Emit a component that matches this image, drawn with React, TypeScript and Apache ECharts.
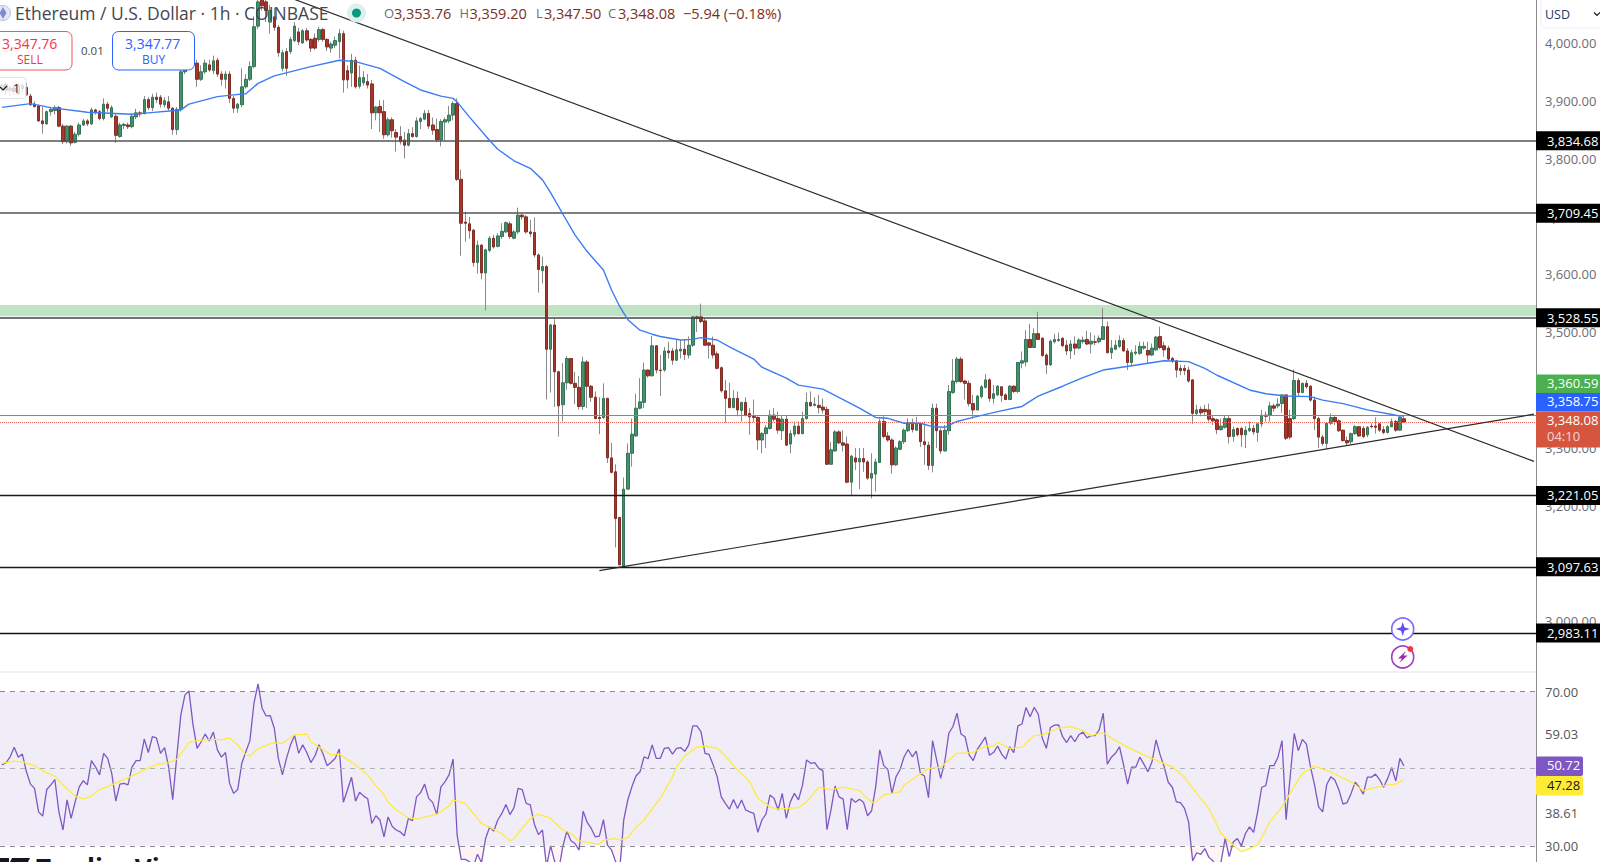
import React, { useEffect, useRef } from "react";
import * as echarts from "echarts";

const FONT = '"Open Sans", Roboto, sans-serif';
const CATEGORY_COUNT = 378;

// [open, close, low, high], one row per hourly candle
const candles: number[][] = [
  [3925,3930,3918,3938],[3932,3922,3915,3936],[3922,3926,3912,3930],[3926,3920,3914,3932],[3916,3931,3914,3934],[3925,3930,3918,3934],[3927,3914,3912,3935],
  // 7
  [3912,3897,3895,3916],[3898,3894,3892,3903],[3895,3869,3867,3897],[3869,3864,3847,3893],[3864,3885,3862,3887],[3885,3889,3878,3893],[3887,3892,3880,3896],[3892,3860,3858,3895],[3860,3833,3829,3864],[3833,3860,3830,3862],[3860,3831,3826,3862],[3832,3846,3830,3850],[3846,3862,3842,3866],[3862,3869,3860,3873],[3869,3864,3860,3872],[3864,3888,3862,3892],[3888,3885,3880,3890],[3885,3873,3870,3888],[3873,3898,3870,3908],[3898,3891,3885,3902],[3876,3892,3874,3896],[3877,3844,3831,3882],[3842,3862,3840,3866],[3861,3863,3855,3866],[3862,3859,3855,3866],[3859,3877,3856,3882],[3876,3883,3872,3890],[3883,3881,3876,3886],[3882,3906,3880,3912],[3906,3892,3888,3910],[3892,3910,3886,3916],[3910,3906,3900,3918],[3910,3898,3892,3914],[3897,3904,3892,3910],[3902,3891,3886,3912],[3891,3854,3845,3893],[3854,3889,3845,3893],[3889,3954,3885,3960],
  // 45
  [3954,3965,3950,3975],[3965,3975,3960,3985],[3975,3969,3962,3990],[3969,3941,3928,3975],[3941,3954,3938,3965],[3954,3969,3950,3975],[3966,3957,3954,3975],[3956,3973,3950,3982],[3974,3950,3945,3978],[3950,3941,3930,3955],[3941,3950,3925,3955],[3950,3908,3900,3955],[3908,3891,3883,3912],[3891,3898,3883,3900],[3897,3928,3893,3960],[3928,3941,3925,3950],[3941,3963,3938,3972],[3963,4032,3960,4050],[4033,4075,4028,4100],[4085,4068,4060,4095],[4075,4060,4040,4085],[4040,4060,4020,4070],[4049,4031,4025,4065],[4031,3987,3980,4035],[3960,3987,3955,3992],[3989,3960,3947,3995],[3989,4010,3985,4015],[4008,4033,4005,4040],[4023,4006,4000,4030],[4004,4025,4002,4028],[4025,4009,4006,4030],[4010,3995,3988,4012],[4012,3995,3992,4020],[4010,4027,4006,4032],[4027,4010,4006,4030],[4010,3997,3990,4012],[3995,4002,3987,4006],[4000,4008,3995,4015],[4006,4020,3977,4028],
  // 84
  [4020,3940,3918,4025],[3956,3940,3925,3965],[3952,3974,3928,3985],[3974,3928,3925,3980],[3929,3944,3925,3965],[3935,3944,3930,3955],[3937,3931,3925,3950],[3933,3883,3855,3940],[3883,3893,3870,3895],[3894,3883,3850,3905],[3885,3845,3838,3905],[3845,3871,3842,3875],[3871,3852,3840,3875],[3849,3841,3816,3855],[3842,3833,3828,3860],
  // 99
  [3836,3827,3804,3850],[3827,3847,3825,3855],[3847,3842,3840,3858],[3842,3869,3840,3875],[3868,3873,3855,3876],[3872,3882,3870,3888],[3882,3860,3855,3888],[3862,3853,3845,3875],[3854,3836,3832,3873],[3836,3868,3825,3872],[3867,3871,3836,3875],[3869,3879,3865,3895],[3879,3899,3870,3903],[3899,3768,3765,3908],
  // 113
  [3768,3692,3636,3785],[3694,3692,3660,3712],[3691,3679,3665,3703],[3680,3624,3617,3682],[3624,3654,3605,3662],[3654,3606,3595,3656],[3606,3646,3541,3648],[3645,3666,3642,3670],[3666,3651,3648,3672],[3652,3670,3650,3675],[3669,3678,3665,3692],[3677,3693,3675,3695],[3691,3669,3665,3695],[3666,3677,3664,3680],[3677,3706,3673,3719],[3706,3703,3698,3708],[3703,3677,3674,3706],[3677,3674,3668,3698],[3676,3637,3633,3702],[3637,3612,3572,3640],[3610,3617,3588,3634],
  // 134
  [3617,3474,3387,3620],[3474,3516,3399,3518],[3516,3435,3374,3526],[3435,3376,3323,3437],[3378,3416,3349,3450],[3416,3458,3404,3462],[3458,3415,3413,3458],[3415,3408,3379,3435],[3408,3375,3370,3428],[3375,3452,3369,3461],[3452,3410,3372,3455],[3410,3391,3383,3412],[3391,3354,3353,3401],[3356,3354,3327,3391],[3356,3389,3353,3415],[3389,3286,3277,3390],[3286,3261,3259,3312],[3262,3181,3131,3275],[3183,3101,3100,3184],
  // 153
  [3099,3232,3098,3252],[3232,3294,3231,3311],[3294,3327,3271,3354],[3324,3372,3323,3397],[3372,3383,3370,3424],[3382,3438,3372,3451],[3438,3428,3425,3439],[3428,3480,3427,3497],[3480,3438,3432,3481],[3438,3437,3393,3464],[3438,3471,3435,3478],[3471,3468,3458,3487],[3471,3455,3447,3476],[3455,3473,3454,3490],[3471,3474,3458,3490],[3474,3465,3455,3490],[3464,3481,3458,3496],[3481,3530,3478,3531],[3530,3527,3504,3532],[3530,3522,3519,3553],[3523,3481,3480,3528],[3485,3481,3458,3487],[3481,3464,3458,3496],[3466,3441,3439,3470],[3442,3402,3399,3444],[3402,3389,3347,3421],[3389,3373,3372,3416],[3373,3389,3372,3403],[3389,3369,3358,3401],[3368,3382,3349,3383],[3382,3360,3358,3391],[3363,3357,3326,3372],[3358,3356,3348,3387],[3356,3317,3300,3358],[3317,3328,3294,3331],[3328,3338,3303,3343],[3337,3360,3335,3369],[3360,3353,3349,3372],[3354,3334,3328,3366],[3333,3353,3317,3360],[3353,3308,3307,3360],[3310,3328,3294,3334],[3327,3341,3322,3349],[3341,3328,3326,3349],[3328,3354,3327,3366],[3354,3382,3352,3399],[3382,3376,3375,3401],[3377,3379,3375,3391],[3377,3373,3363,3395],[3374,3369,3363,3389],
  // 203
  [3370,3275,3274,3375],[3275,3300,3274,3314],[3298,3331,3297,3334],[3331,3312,3310,3334],[3312,3308,3297,3334],[3310,3244,3242,3323],[3244,3289,3220,3291],[3286,3279,3265,3303],[3279,3285,3232,3303],[3285,3279,3262,3303],[3279,3251,3248,3282],[3251,3259,3216,3294],[3258,3279,3228,3285],[3278,3349,3277,3354],[3349,3323,3320,3358],[3324,3317,3314,3331],[3317,3274,3259,3320],[3274,3303,3272,3306],[3301,3314,3299,3317],
  // 222
  [3314,3334,3310,3337],[3333,3347,3331,3354],[3347,3335,3330,3354],[3334,3346,3333,3357],[3345,3314,3305,3347],[3314,3309,3274,3349],[3308,3273,3265,3314],[3273,3372,3261,3380],[3372,3333,3303,3380],[3333,3298,3293,3337],[3298,3334,3297,3343],[3333,3401,3326,3412],[3399,3419,3397,3457],[3418,3457,3415,3461],[3457,3418,3416,3461],[3419,3415,3387,3421],[3415,3380,3375,3420],[3380,3369,3354,3395],[3369,3393,3368,3395],[3392,3409,3389,3412],[3408,3421,3406,3431],[3421,3389,3383,3424],[3389,3397,3380,3412],[3395,3410,3393,3412],[3409,3394,3383,3410],[3395,3387,3386,3398],[3387,3410,3386,3412],[3410,3401,3398,3412],[3401,3451,3398,3452],[3450,3454,3441,3470],[3452,3491,3444,3507],[3491,3477,3476,3518],[3477,3501,3476,3510],[3501,3491,3490,3539],[3493,3463,3461,3495],[3464,3447,3431,3467],[3447,3488,3445,3491],[3487,3491,3484,3501],[3489,3491,3487,3503],[3493,3480,3478,3495],[3481,3471,3464,3490],[3471,3483,3457,3490],[3483,3476,3464,3496],[3476,3490,3474,3493],[3487,3490,3484,3496],[3491,3483,3481,3506],[3483,3488,3467,3503],[3487,3486,3481,3498],[3487,3493,3484,3498],[3491,3513,3490,3545],[3513,3468,3467,3522],[3468,3476,3457,3490],[3474,3481,3473,3490],[3479,3489,3476,3498],[3489,3471,3470,3493],[3471,3451,3438,3476],[3451,3468,3444,3473],[3467,3469,3464,3481],[3467,3479,3464,3487],[3476,3479,3473,3487],[3472,3464,3450,3487],[3464,3476,3462,3484],[3473,3495,3471,3497],[3496,3477,3474,3513],[3480,3473,3461,3487],[3476,3457,3455,3480],[3458,3454,3450,3461],[3454,3438,3425,3455],[3441,3437,3429,3447],[3441,3437,3429,3447],[3438,3419,3416,3444],
  // 293
  [3421,3363,3345,3422],[3363,3369,3360,3378],[3370,3364,3358,3375],[3370,3366,3360,3378],[3369,3353,3349,3380],[3354,3350,3343,3360],[3352,3335,3327,3354],[3335,3341,3333,3354],[3339,3354,3337,3360],[3354,3323,3311,3360],[3323,3335,3314,3340],[3337,3326,3323,3339],[3337,3326,3305,3340],[3326,3334,3303,3341],[3333,3337,3331,3349],[3337,3331,3326,3343],[3330,3345,3314,3346],[3345,3360,3339,3369],[3360,3358,3349,3366],[3360,3376,3349,3383],[3376,3372,3366,3380],[3376,3379,3372,3389],[3380,3395,3364,3395],[3395,3320,3317,3395],[3354,3322,3318,3369],[3354,3420,3352,3439],[3420,3399,3392,3424],[3399,3415,3398,3416],[3415,3409,3406,3421],[3410,3386,3383,3412],[3386,3354,3334,3392],[3354,3322,3303,3357],[3322,3311,3307,3326],[3311,3346,3301,3347],[3346,3356,3343,3363],[3356,3349,3343,3358],[3350,3333,3331,3353],[3334,3316,3314,3335],[3316,3312,3307,3323],[3314,3328,3310,3330],[3328,3340,3326,3343],[3340,3324,3323,3341],[3337,3323,3320,3341],[3326,3339,3322,3341],[3341,3340,3337,3346],[3341,3339,3328,3356],[3345,3334,3331,3346],[3335,3330,3327,3341],[3330,3340,3328,3343],[3340,3349,3339,3354],[3349,3334,3331,3352],[3334,3356,3333,3358],
  // 345
  [3353.76,3348.08,3347.5,3359.2],
];

// 50-period moving average read at its turning points: candle index, price
const maIndex = [0,7,12,21,32,36,44,46,53,57,60,63,67,76,83,87,93,99,103,108,111,112,115,120,122,126,130,133,135,138,141,144,148,150,152,154,157,160,162,167,170,172,176,179,185,187,193,196,202,207,211,215,218,222,226,229,232,235,239,245,251,255,261,266,271,278,286,292,296,299,307,311,316,322,325,330,336,344,345];
const maPrice = [3892.5,3899,3892,3884,3880.5,3883,3888,3898,3911,3914,3916,3934,3947,3963,3974,3971.5,3960,3937,3922.5,3912,3908,3902,3876,3835,3820,3800,3787,3767,3745,3708,3672,3643,3611,3576.5,3548,3525,3507,3500,3496,3490,3491,3494,3490,3478,3457,3443,3424,3412,3405,3387,3372,3356,3354.5,3346,3346,3340,3339,3349,3356,3366,3375,3393,3410,3425,3438,3445.5,3454,3452.5,3441,3429,3403.5,3397,3393,3392,3386,3380,3369,3358.5,3358.75];

const levelValues = [3834.68,3709.45,3528.55,3221.05,3097.63,2983.11];
const levelColors = ["#555555","#555555","#444444","#1a1a1a","#1a1a1a","#111111"];
const zoneLow = 3531;
const zoneHigh = 3550.6;
const lastPrice = 3348.08;
const greenLevel = 3360.59;

const priceMin = 2915.6;
const priceMax = 4078.2;
const priceTicks = [3000,3100,3200,3300,3400,3500,3600,3700,3800,3900,4000];

// trend lines: candle index, price
const fallIndex = [72,377];
const fallPrice = [4079.2,3280];
const riseIndex = [147,377];
const risePrice = [3091.1,3361.6];

const rsi = [
  51.0,51.6,53.1,55.6,53.0,53.8,49.2,46.0,44.9,38.8,37.7,44.6,45.8,47.2,38.8,34.1,41.9,37.1,41.4,45.3,
  46.9,45.8,52.1,50.5,48.4,54.0,52.7,48.8,41.6,46.0,46.2,45.8,50.5,52.1,52.1,57.7,54.2,58.3,58.0,54.0,
  55.5,50.5,42.0,53.1,63.9,69.1,70.2,61.4,55.3,57.0,59.0,57.2,59.5,54.9,53.0,54.2,46.2,43.6,44.6,51.4,
  54.4,57.3,67.0,72.0,65.7,63.7,63.8,60.5,52.7,48.4,52.7,56.2,58.6,54.0,56.2,54.2,51.6,53.3,56.2,53.8,
  50.8,51.7,52.7,55.1,41.3,44.5,47.8,41.6,43.9,42.9,42.2,35.8,37.8,36.7,32.3,37.5,35.1,34.1,33.6,32.6,
  37.1,36.5,42.7,43.8,46.0,42.3,41.2,38.1,45.3,46.6,48.4,52.5,32.8,26.5,26.5,25.9,24.6,27.8,25.6,31.9,
  34.9,33.8,36.7,38.4,40.7,38.1,39.9,44.9,44.6,41.0,40.6,35.6,32.9,34.1,24.6,30.0,25.9,23.7,29.8,33.8,
  31.3,30.6,28.9,39.0,36.1,34.5,32.3,32.5,36.8,30.2,28.9,25.9,23.7,36.7,41.9,45.3,48.1,49.2,53.1,52.6,
  56.2,52.7,52.7,55.3,55.5,53.8,55.3,55.5,54.5,56.2,61.1,61.1,59.6,54.0,53.7,51.0,47.9,42.7,41.0,39.5,
  42.0,39.7,41.9,39.3,38.8,38.4,33.5,36.7,38.2,43.2,42.3,39.3,43.6,37.1,41.4,43.6,41.9,45.8,52.3,51.4,
  51.6,50.1,49.5,34.2,39.3,45.5,42.7,42.1,34.2,42.3,41.3,42.1,41.3,37.8,39.1,45.3,54.9,50.8,49.8,43.6,
  47.9,49.8,53.1,55.0,53.1,54.6,48.8,48.1,42.5,57.3,52.3,47.5,51.8,59.2,60.9,64.4,59.0,58.3,53.6,52.1,
  55.0,56.6,58.2,53.5,54.2,55.9,53.8,52.5,55.7,54.2,61.1,61.6,65.9,63.5,65.9,64.2,57.9,55.3,60.7,61.3,
  61.4,58.3,56.8,58.6,57.0,58.8,59.5,58.0,58.6,58.6,60.1,64.4,51.2,53.0,54.0,55.7,51.0,46.0,50.4,50.4,
  53.0,51.2,49.2,51.8,57.5,53.6,50.5,46.5,45.2,41.4,41.2,39.7,36.2,26.1,28.2,27.8,29.3,27.0,26.1,23.7,
  25.9,31.9,27.2,31.0,31.9,30.0,33.2,34.9,33.5,38.8,45.2,45.6,50.8,50.8,53.0,57.3,36.8,47.9,59.2,54.7,
  57.6,56.4,50.5,45.8,40.1,38.8,45.9,47.9,47.1,44.5,40.8,41.2,43.6,46.5,45.2,43.4,47.8,47.8,48.6,47.2,
  45.2,47.5,50.3,46.8,52.7,50.72,
];

// RSI moving average read at its turning points: candle index, value
const rsiMaIndex = [0,3,5,8,10,13,15,18,20,22,24,27,29,32,35,38,41,43,45,46,48,52,54,56,58,60,61,63,67,69,72,75,76,81,83,87,90,92,94,95,97,100,102,107,110,111,114,118,120,123,125,126,130,132,135,138,140,142,147,148,151,152,154,156,158,161,162,165,166,168,171,173,176,178,181,184,186,189,191,196,198,201,204,207,211,214,215,217,221,222,228,231,235,239,242,244,245,248,251,254,256,260,263,266,268,271,274,277,281,285,288,291,293,297,300,303,305,309,312,315,317,320,323,327,329,332,335,337,340,343,345];
const rsiMaValue = [51.4,52.0,51.8,50.8,49.4,48.1,45.8,42.9,42.2,42.9,44.6,45.8,46.8,48.1,49.7,51.1,51.6,52.4,55.3,56.8,57.3,57.6,57.5,58.0,56.2,53.6,53.3,55.3,56.8,56.6,58.8,59.0,57.0,53.6,53.8,51.0,48.4,45.6,43.2,41.4,39.3,37.3,36.9,38.2,40.3,41.9,41.0,35.8,34.8,33.2,31.3,31.9,37.1,38.2,37.1,34.1,33.2,31.3,30.4,31.5,31.9,31.5,32.1,34.8,36.7,41.0,42.3,47.9,50.5,53.3,55.6,55.9,55.3,53.3,49.7,46.6,42.3,40.1,39.5,39.9,41.4,45.2,44.6,45.2,44.3,41.2,41.4,43.2,44.0,45.8,50.1,50.4,54.0,54.2,55.9,55.9,56.8,55.3,55.6,58.6,58.8,60.5,60.9,59.9,58.6,59.4,57.3,55.6,53.6,51.8,50.5,47.8,44.9,39.7,33.2,30.2,28.5,30.2,36.2,40.1,43.6,48.8,50.7,49.2,48.1,46.6,44.3,44.9,45.6,46.0,47.28];

const rsiMin = 25.8;
const rsiMax = 75.1;
const rsiTicks = [30,38.61,59.03,70];
const rsiBands = [70,50,30];

const categories = Array.from({ length: CATEGORY_COUNT }, (_, i) => String(i));
const money = (v: number) =>
  v.toLocaleString("en-US", { minimumFractionDigits: 2, maximumFractionDigits: 2 });

const txt = (text: string, x: number, y: number, fill: string, fontSize: number, extra: any = {}) => ({
  type: "text",
  z: 100,
  silent: true,
  style: { text, x, y, fill, fontSize, fontFamily: FONT, textAlign: "left", textVerticalAlign: "middle", ...extra },
});

const box = (x: number, y: number, width: number, height: number, fill: string, stroke?: string, r = 0) => ({
  type: "rect",
  z: 99,
  silent: true,
  shape: { x, y, width, height, r },
  style: { fill, stroke: stroke || "none", lineWidth: stroke ? 1 : 0 },
});

function buildOption(): any {
  const bodies = candles.map(([o, c]) => [o, c, Math.min(o, c), Math.max(o, c)]);
  return {
    animation: false,
    backgroundColor: "#ffffff",
    textStyle: { fontFamily: FONT },
    grid: [
      { left: -5, right: 64, top: 0, height: 672 },
      { left: -5, right: 64, top: 672, height: 190 },
    ],
    xAxis: [
      { type: "category", gridIndex: 0, data: categories, show: false },
      { type: "category", gridIndex: 1, data: categories, show: false },
    ],
    yAxis: [
      {
        type: "value", gridIndex: 0, position: "right", min: priceMin, max: priceMax, scale: true,
        axisLine: { show: true, lineStyle: { color: "#8c8c8c", width: 1 } },
        axisTick: { show: false },
        splitLine: { show: false },
        axisLabel: {
          customValues: priceTicks, formatter: (v: number) => `{tick|${money(v)}}`, margin: 9,
          rich: { tick: { color: "#6a6d78", fontSize: 13, fontFamily: FONT, padding: [0, 0, 4, 0] } },
        },
      },
      {
        type: "value", gridIndex: 1, position: "right", min: rsiMin, max: rsiMax, scale: true,
        axisLine: { show: true, lineStyle: { color: "#8c8c8c", width: 1 } },
        axisTick: { show: false },
        splitLine: { show: false },
        axisLabel: {
          customValues: rsiTicks, formatter: (v: number) => v.toFixed(2), color: "#555555",
          fontSize: 13, fontFamily: FONT, margin: 9,
        },
      },
    ],
    series: [
      {
        type: "candlestick", name: "wicks", xAxisIndex: 0, yAxisIndex: 0, barWidth: 1, z: 3, silent: true,
        data: candles,
        itemStyle: { color: "#8a8a8a", color0: "#8a8a8a", borderColor: "#8a8a8a", borderColor0: "#8a8a8a", borderWidth: 1 },
        markArea: {
          silent: true,
          itemStyle: { color: "#bfe3c3", opacity: 1 },
          data: [[{ yAxis: zoneLow, x: 0 }, { yAxis: zoneHigh, x: 1536 }]],
        },
      },
      {
        type: "candlestick", name: "bodies", xAxisIndex: 0, yAxisIndex: 0, barWidth: 3, z: 4, silent: true,
        data: bodies,
        itemStyle: { color: "#44906a", color0: "#a8342a", borderColor: "#357456", borderColor0: "#822e24", borderWidth: 1 },
      },
      {
        type: "line", name: "MA", xAxisIndex: 0, yAxisIndex: 0, z: 5, showSymbol: false, silent: true,
        data: maIndex.map((i, k) => [i, maPrice[k]]),
        lineStyle: { color: "#3b7cf5", width: 1.4 },
        markLine: {
          silent: true, symbol: "none", animation: false,
          data: [
            { yAxis: greenLevel, lineStyle: { color: "#4caf50", width: 1, type: "solid" }, label: { show: false } },
            { yAxis: lastPrice, lineStyle: { color: "#f0685c", width: 1, type: "dotted" }, label: { show: false } },
          ],
        },
      },
      {
        type: "line", name: "fall", xAxisIndex: 0, yAxisIndex: 0, z: 6, showSymbol: false, silent: true,
        data: fallIndex.map((i, k) => [i, fallPrice[k]]),
        lineStyle: { color: "#2a2a2a", width: 1.2 },
      },
      {
        type: "line", name: "rise", xAxisIndex: 0, yAxisIndex: 0, z: 6, showSymbol: false, silent: true,
        data: riseIndex.map((i, k) => [i, risePrice[k]]),
        lineStyle: { color: "#2a2a2a", width: 1.2 },
        markLine: {
          silent: true, symbol: "none", animation: false,
          data: levelValues.map((v, k) => ({
            yAxis: v,
            lineStyle: { color: levelColors[k], width: k < 3 ? 1.6 : 1.3, type: "solid" },
            label: {
              show: true, position: "end", distance: 0, formatter: money(v), color: "#ffffff",
              backgroundColor: "#000000", fontSize: 13, fontFamily: FONT, lineHeight: 15, padding: [1, 2, 3, 11],
            },
          })),
        },
      },
      {
        type: "line", name: "over", xAxisIndex: 1, yAxisIndex: 1, z: 2, showSymbol: false, silent: true,
        data: rsi.map((v) => Math.max(v, 70)),
        lineStyle: { width: 0 }, areaStyle: { origin: 70, color: "rgba(76,175,80,0.15)" },
      },
      {
        type: "line", name: "under", xAxisIndex: 1, yAxisIndex: 1, z: 2, showSymbol: false, silent: true,
        data: rsi.map((v) => Math.min(v, 30)),
        lineStyle: { width: 0 }, areaStyle: { origin: 30, color: "rgba(242,54,69,0.08)" },
      },
      {
        type: "line", name: "RSI", xAxisIndex: 1, yAxisIndex: 1, z: 4, showSymbol: false, silent: true,
        data: rsi,
        lineStyle: { color: "#7e57c2", width: 1.3 },
        markArea: {
          silent: true,
          itemStyle: { color: "rgba(126,87,194,0.11)" },
          data: [[{ yAxis: rsiBands[2], x: 0 }, { yAxis: rsiBands[0], x: 1536 }]],
        },
        markLine: {
          silent: true, symbol: "none", animation: false,
          data: rsiBands.map((v, k) => ({
            yAxis: v,
            lineStyle: { color: k === 1 ? "#b0b0b8" : "#8a8a90", width: 1, type: [5, 5] },
            label: { show: false },
          })),
        },
      },
      {
        type: "line", name: "RSI MA", xAxisIndex: 1, yAxisIndex: 1, z: 5, showSymbol: false, silent: true,
        data: rsiMaIndex.map((i, k) => [i, rsiMaValue[k]]),
        lineStyle: { color: "#fdeb3f", width: 1.3 },
      },
    ],
    graphic: { elements: buildChrome() },
  };
}

function buildChrome(): any[] {
  const candleRed = "#7b2e24";
  const ohlc = [
    ["O", "3,353.76", 384], ["H", "3,359.20", 459.5], ["L", "3,347.50", 536], ["C", "3,348.08", 608],
  ] as [string, string, number][];
  const ohlcTexts = ohlc.flatMap(([k, v, x]) => [
    txt(k, x, 13, "#6a6d78", 13),
    txt(v, x + (k === "L" ? 8 : 10), 13, candleRed, 14.5),
  ]);
  return [
    // legend strip
    { type: "circle", z: 99, silent: true, shape: { cx: 3, cy: 13, r: 7.5 }, style: { fill: "#e6e8f6", stroke: "#b9bfd8", lineWidth: 1 } },
    { type: "polygon", z: 100, silent: true, shape: { points: [[3, 7], [6.5, 13], [3, 19], [-0.5, 13]] }, style: { fill: "#7f8bd6" } },
    txt("Ethereum / U.S. Dollar · 1h · COINBASE", 15, 13, "#434651", 17.5),
    { type: "circle", z: 99, silent: true, shape: { cx: 356.5, cy: 13, r: 9.5 }, style: { fill: "#dcf1ee" } },
    { type: "circle", z: 100, silent: true, shape: { cx: 356.5, cy: 13, r: 4.5 }, style: { fill: "#089981" } },
    ...ohlcTexts,
    txt("−5.94 (−0.18%)", 683, 13, candleRed, 14.5),
    // order buttons
    box(-6, 31.5, 78, 38.5, "#ffffff", "#f7525f", 6),
    txt("3,347.76", 2, 43.5, "#f23645", 14, { fontWeight: 500 }),
    txt("SELL", 17, 59, "#f23645", 12),
    txt("0.01", 81, 50, "#434651", 11.5),
    box(112.5, 31.5, 82, 38.5, "#ffffff", "#2962ff", 6),
    txt("3,347.77", 125, 43.5, "#2962ff", 14, { fontWeight: 500 }),
    txt("BUY", 142, 59, "#2962ff", 12),
    box(-4, 77.5, 30, 21, "rgba(255,255,255,0.78)", "#e0e3eb", 3),
    { type: "polyline", z: 100, silent: true, shape: { points: [[0, 87], [3, 90], [7, 86]] }, style: { stroke: "#131722", lineWidth: 1.1, fill: "none" } },
    txt("1", 13, 88, "#131722", 12),
    // pane divider
    { type: "line", z: 1, silent: true, shape: { x1: 0, y1: 672, x2: 1536, y2: 672 }, style: { stroke: "#e0e3eb", lineWidth: 1 } },
    // currency button
    box(1541, -4, 64, 32, "#ffffff", "#eceef3", 5),
    txt("USD", 1545, 14, "#1a3a6b", 12.5),
    { type: "polyline", z: 100, silent: true, shape: { points: [[1594, 12.5], [1597, 15.5], [1600, 12.5]] }, style: { stroke: "#131722", lineWidth: 1.2, fill: "none" } },
    // live price tags
    box(1536, 374.5, 64, 18.5, "#4caf50"),
    txt("3,360.59", 1547, 382.5, "#ffffff", 13),
    box(1536, 393, 64, 18.5, "#2962ff"),
    txt("3,358.75", 1547, 401, "#ffffff", 13),
    box(1536, 411.5, 64, 36, "#d6553f"),
    txt("3,348.08", 1547, 420, "#ffffff", 13),
    txt("04:10", 1547, 435.5, "#f5d6cf", 13),
    box(1536, 756.5, 47, 19.5, "#7e57c2", undefined, 2),
    txt("50.72", 1547, 765, "#ffffff", 13),
    box(1536, 776, 47, 19.5, "#fdeb36", undefined, 2),
    txt("47.28", 1547, 785, "#131722", 13),
    // floating icons
    { type: "circle", z: 99, silent: true, shape: { cx: 1402.7, cy: 629, r: 11 }, style: { fill: "#ffffff", stroke: "#7a6cff", lineWidth: 1.6 } },
    { type: "polygon", z: 100, silent: true, shape: { points: [[1402.7, 622], [1404.4, 627.3], [1409.7, 629], [1404.4, 630.7], [1402.7, 636], [1401, 630.7], [1395.7, 629], [1401, 627.3]] }, style: { fill: "#5f4ff5" } },
    { type: "circle", z: 99, silent: true, shape: { cx: 1402.7, cy: 657, r: 11 }, style: { fill: "#ffffff", stroke: "#a23cc0", lineWidth: 1.6 } },
    { type: "polygon", z: 100, silent: true, shape: { points: [[1406, 651], [1398, 658.5], [1402, 658.5], [1399.5, 663], [1407.5, 655.5], [1403.5, 655.5]] }, style: { fill: "#9c27b0" } },
    { type: "circle", z: 101, silent: true, shape: { cx: 1410.3, cy: 649, r: 3 }, style: { fill: "#f23645" } },
    // watermark, cut by the page edge
    { type: "rect", z: 99, silent: true, shape: { x: 0, y: 858, width: 9, height: 8 }, style: { fill: "#131722" } },
    { type: "polygon", z: 99, silent: true, shape: { points: [[12, 858], [30, 858], [26, 866], [8, 866]] }, style: { fill: "#131722" } },
    txt("TradingView", 36, 868, "#131722", 26, { fontWeight: 700 }),
  ];
}

export default function App() {
  const ref = useRef<HTMLDivElement>(null);
  useEffect(() => {
    document.body.style.margin = "0";
    const chart = echarts.init(ref.current!, undefined, { renderer: "svg" });
    chart.setOption(buildOption());
    return () => chart.dispose();
  }, []);
  return <div ref={ref} style={{ position: "fixed", left: 0, top: 0, width: 1600, height: 862, overflow: "hidden" }} />;
}
